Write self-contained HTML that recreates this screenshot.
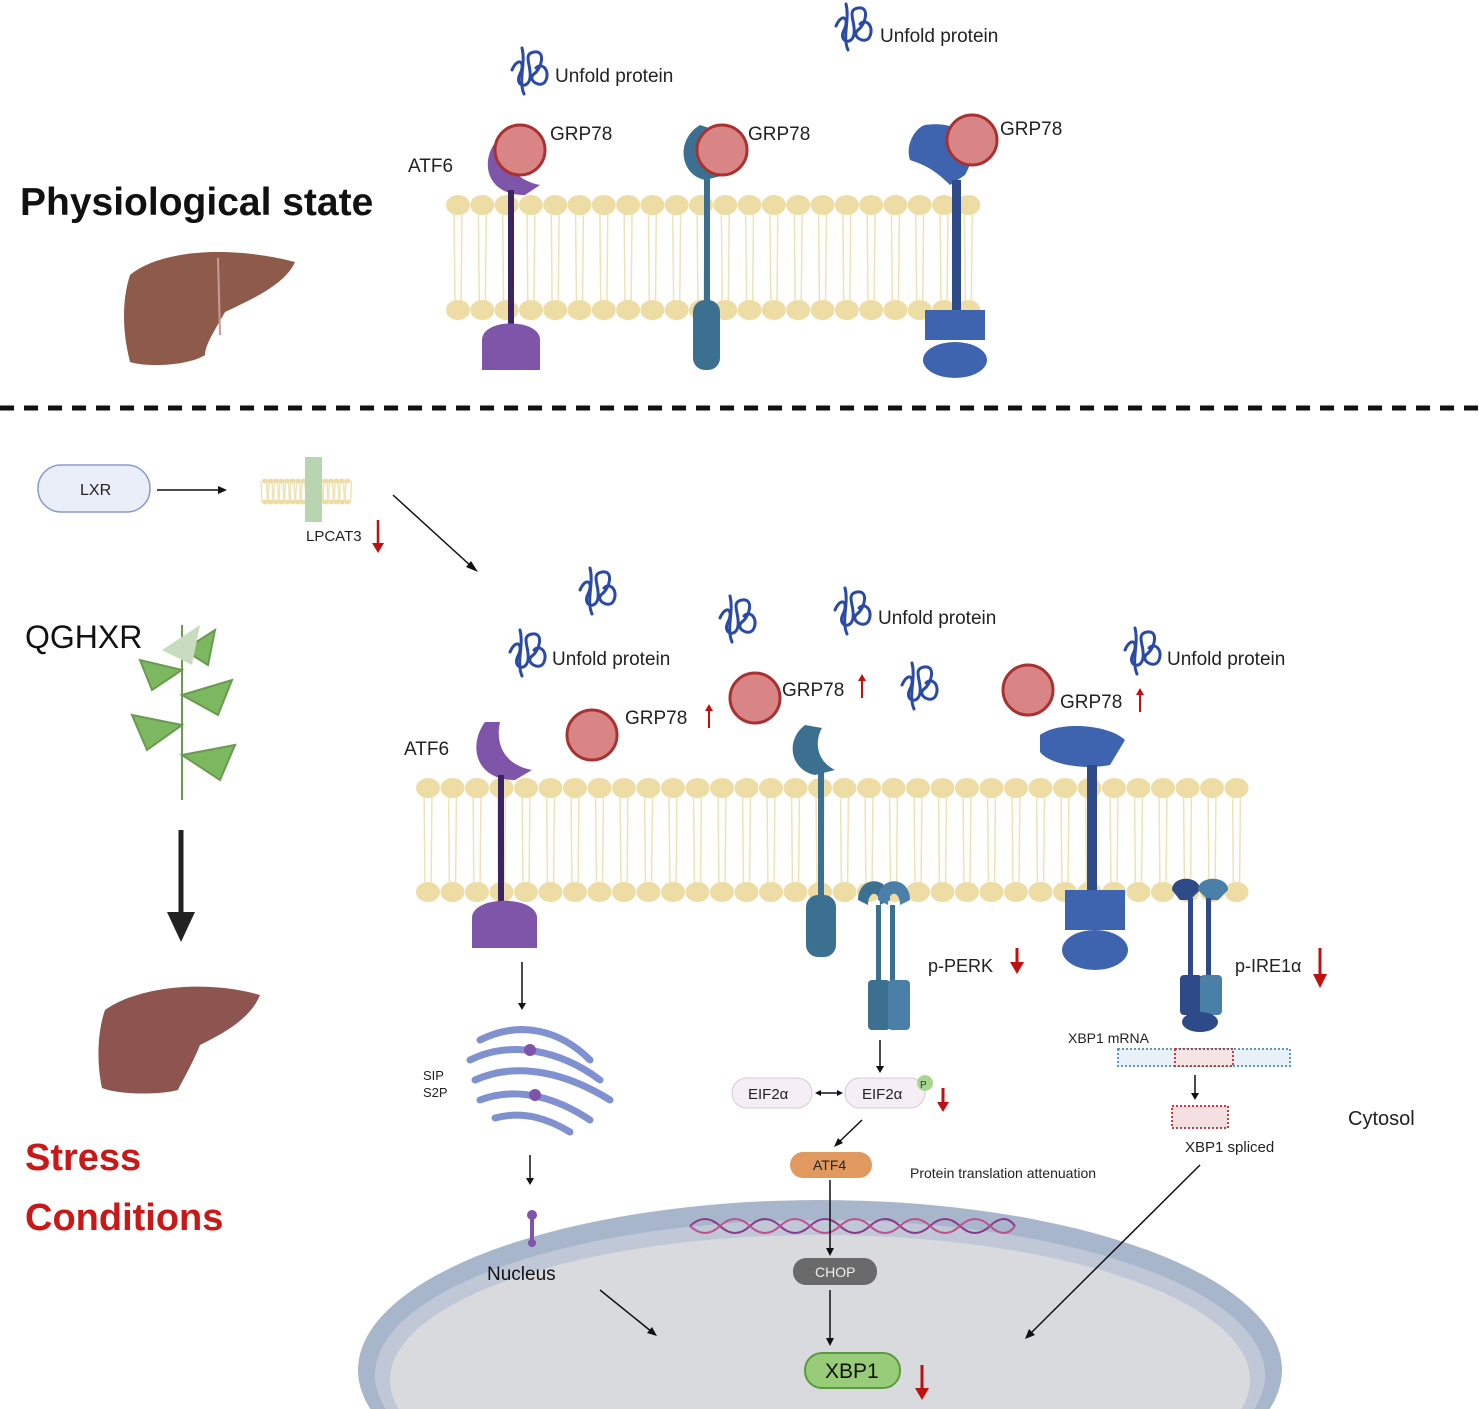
<!DOCTYPE html>
<html><head><meta charset="utf-8"><style>
html,body{margin:0;padding:0;background:#fff;width:1479px;height:1409px;overflow:hidden}
svg{display:block}
text{font-family:"Liberation Sans",sans-serif}
</style></head><body>
<svg id="s" width="1479" height="1409" viewBox="0 0 1479 1409" xmlns="http://www.w3.org/2000/svg">
<defs>
<g id="uf" fill="none" stroke="#2a4aa5" stroke-width="3" stroke-linecap="round">
<path d="M0 10 C6 -4 14 2 8 14 C2 26 16 30 18 18 C20 6 10 -6 22 -8 C34 -10 30 8 22 14 C14 20 30 30 34 20 C38 10 30 2 24 8"/>
<path d="M10 -12 C14 4 6 20 12 34"/>
</g>
</defs>
<g id="mem1"></g><g id="mem2"></g>

<!-- top section -->
<text x="20" y="215" font-size="39" font-weight="bold" fill="#111">Physiological state</text>
<path d="M130 275 C160 250 230 245 295 262 C285 285 250 300 225 312 C215 330 205 345 205 355 C190 365 150 368 130 362 C122 330 122 300 130 275Z" fill="#8e5a4a"/>
<path d="M218 258 L220 335" stroke="#c99" stroke-width="2"/>

<use href="#uf" x="512" y="60"/><text x="555" y="82" font-size="19" fill="#222">Unfold protein</text>
<use href="#uf" x="836" y="16"/><text x="880" y="42" font-size="19" fill="#222">Unfold protein</text>

<text x="408" y="172" font-size="19" fill="#222">ATF6</text>
<path d="M497 140 C480 160 485 195 525 195 L540 185 C515 180 505 165 510 140Z" fill="#7e55a8"/>
<rect x="508" y="190" width="6" height="135" fill="#3a2560"/>
<path d="M482 340 C482 318 540 318 540 340 L540 370 L482 370Z" fill="#7e55a8"/>
<circle cx="520" cy="150" r="25" fill="#d98585" stroke="#a83232" stroke-width="3"/>
<text x="550" y="140" font-size="19" fill="#222">GRP78</text>

<path d="M700 125 C675 140 680 175 705 180 L725 175 C705 165 705 145 715 130Z" fill="#3c7090"/>
<rect x="704" y="175" width="6" height="145" fill="#3c7090"/>
<rect x="693" y="300" width="27" height="70" rx="12" fill="#3c7090"/>
<circle cx="722" cy="150" r="25" fill="#d98585" stroke="#a83232" stroke-width="3"/>
<text x="748" y="140" font-size="19" fill="#222">GRP78</text>

<path d="M925 125 C960 120 985 140 965 175 L950 185 C935 170 925 165 910 160 C905 145 915 128 925 125Z" fill="#3e64b0"/>
<rect x="952" y="180" width="9" height="130" fill="#2e4a88"/>
<path d="M925 310 L985 310 L985 340 L925 340Z" fill="#3e64b0"/>
<ellipse cx="955" cy="360" rx="32" ry="18" fill="#3e64b0"/>
<circle cx="972" cy="140" r="25" fill="#d98585" stroke="#a83232" stroke-width="3"/>
<text x="1000" y="135" font-size="19" fill="#222">GRP78</text>

<line x1="0" y1="408" x2="1479" y2="408" stroke="#111" stroke-width="5" stroke-dasharray="14,10"/>

<!-- bottom left -->
<rect x="38" y="465" width="112" height="47" rx="23" fill="#e9eef9" stroke="#8b9bd0" stroke-width="1.5"/>
<text x="80" y="495" font-size="16" fill="#222">LXR</text>
<line x1="157" y1="490" x2="222" y2="490" stroke="#111" stroke-width="1.5"/>
<path d="M227 490 L218 486 L218 494Z" fill="#111"/>
<g id="smem"></g>
<rect x="305" y="457" width="17" height="65" fill="#b8d4b0"/>
<text x="306" y="541" font-size="15" fill="#222">LPCAT3</text>
<line x1="378" y1="520" x2="378" y2="547" stroke="#c01010" stroke-width="2.5"/><path d="M372 543 L378 553 L384 543Z" fill="#c01010"/>
<line x1="393" y1="495" x2="472" y2="567" stroke="#111" stroke-width="1.5"/><path d="M478 572 L466 567 L471 561Z" fill="#111"/>

<text x="25" y="648" font-size="32" fill="#111">QGHXR</text>
<g stroke="#6a9a50" stroke-width="2" fill="#7cb860">
<line x1="182" y1="625" x2="182" y2="800"/>
<path d="M182 670 L140 660 L152 690Z"/><path d="M182 695 L232 680 L218 715Z"/><path d="M182 725 L132 715 L147 750Z"/><path d="M182 755 L235 745 L220 780Z"/><path d="M184 650 L215 630 L208 665Z"/>
</g>
<path d="M162 650 L200 625 L192 665Z" fill="#c8dcc0"/>
<line x1="181" y1="830" x2="181" y2="915" stroke="#222" stroke-width="5"/>
<path d="M167 912 L195 912 L181 942Z" fill="#222"/>
<path d="M105 1010 C140 985 210 980 260 995 C250 1020 220 1035 200 1045 C192 1065 180 1085 178 1090 C160 1095 120 1095 102 1088 C96 1060 98 1030 105 1010Z" fill="#8e5450"/>
<text x="25" y="1170" font-size="38" font-weight="bold" fill="#c81818">Stress</text>
<text x="25" y="1230" font-size="38" font-weight="bold" fill="#c81818">Conditions</text>

<!-- unfold proteins bottom -->
<use href="#uf" x="580" y="580"/>
<use href="#uf" x="720" y="608"/>
<use href="#uf" x="510" y="642"/><text x="552" y="665" font-size="19" fill="#222">Unfold protein</text>
<use href="#uf" x="835" y="600"/><text x="878" y="624" font-size="19" fill="#222">Unfold protein</text>
<use href="#uf" x="902" y="675"/>
<use href="#uf" x="1125" y="640"/><text x="1167" y="665" font-size="19" fill="#222">Unfold protein</text>

<!-- GRP78 bottom -->
<circle cx="592" cy="735" r="25" fill="#d98585" stroke="#a83232" stroke-width="3"/>
<text x="625" y="724" font-size="19" fill="#222">GRP78</text>
<circle cx="755" cy="698" r="25" fill="#d98585" stroke="#a83232" stroke-width="3"/>
<text x="782" y="696" font-size="19" fill="#222">GRP78</text>
<circle cx="1028" cy="690" r="25" fill="#d98585" stroke="#a83232" stroke-width="3"/>
<text x="1060" y="708" font-size="19" fill="#222">GRP78</text>
<g stroke="#c01010" stroke-width="2"><line x1="709" y1="728" x2="709" y2="710"/><line x1="862" y1="698" x2="862" y2="680"/><line x1="1140" y1="712" x2="1140" y2="694"/></g>
<g fill="#c01010"><path d="M705 711 L709 704 L713 711Z"/><path d="M858 681 L862 674 L866 681Z"/><path d="M1136 695 L1140 688 L1144 695Z"/></g>

<!-- ATF6 bottom -->
<text x="404" y="755" font-size="19" fill="#222">ATF6</text>
<path d="M485 722 C468 745 475 780 515 780 L532 770 C505 765 495 745 500 722Z" fill="#7e55a8"/>
<rect x="498" y="775" width="6" height="135" fill="#3a2560"/>
<path d="M472 918 C472 895 537 895 537 918 L537 948 L472 948Z" fill="#7e55a8"/>

<!-- PERK monomer -->
<path d="M805 725 C785 740 790 770 815 775 L835 770 C815 760 815 740 822 728Z" fill="#3c7090"/>
<rect x="818" y="770" width="6" height="140" fill="#3c7090"/>
<rect x="806" y="895" width="30" height="62" rx="12" fill="#3c7090"/>
<!-- p-PERK dimer -->
<path d="M858 900 C858 875 890 875 890 900 L880 905 C880 890 868 890 868 905Z" fill="#3c7090"/>
<path d="M878 900 C878 875 910 875 910 900 L900 905 C900 890 888 890 888 905Z" fill="#4a80a8"/>
<rect x="876" y="905" width="5" height="80" fill="#3c7090"/><rect x="890" y="905" width="5" height="80" fill="#3c7090"/>
<rect x="868" y="980" width="22" height="50" rx="4" fill="#3c7090"/><rect x="888" y="980" width="22" height="50" rx="4" fill="#4a80a8"/>
<text x="928" y="972" font-size="18" fill="#222">p-PERK</text>
<line x1="1017" y1="948" x2="1017" y2="966" stroke="#c01010" stroke-width="3"/><path d="M1010 962 L1017 974 L1024 962Z" fill="#c01010"/>

<!-- IRE1 -->
<path d="M1040 735 C1060 720 1110 725 1125 740 L1110 765 C1085 770 1050 765 1040 752Z" fill="#3e64b0"/>
<rect x="1087" y="765" width="10" height="130" fill="#2e4a88"/>
<path d="M1065 890 L1125 890 L1125 930 L1065 930Z" fill="#3e64b0"/>
<ellipse cx="1095" cy="950" rx="33" ry="20" fill="#3e64b0"/>
<!-- p-IRE1 dimer -->
<path d="M1172 890 C1172 875 1200 875 1200 890 L1190 900 L1180 900Z" fill="#2e4a88"/>
<path d="M1198 890 C1198 875 1228 875 1228 890 L1218 900 L1208 900Z" fill="#4a80a8"/>
<rect x="1188" y="898" width="5" height="80" fill="#2e4a88"/><rect x="1206" y="898" width="5" height="80" fill="#2e4a88"/>
<rect x="1180" y="975" width="22" height="40" rx="4" fill="#2e4a88"/><rect x="1200" y="975" width="22" height="40" rx="4" fill="#4a80a8"/>
<ellipse cx="1200" cy="1022" rx="18" ry="10" fill="#2e4a88"/>
<text x="1235" y="972" font-size="18" fill="#222">p-IRE1α</text>
<line x1="1320" y1="948" x2="1320" y2="978" stroke="#c01010" stroke-width="3"/><path d="M1313 974 L1320 988 L1327 974Z" fill="#c01010"/>

<text x="1068" y="1043" font-size="14" fill="#222">XBP1 mRNA</text>
<rect x="1118" y="1049" width="172" height="17" fill="#e8f0f8" stroke="#5a9ac8" stroke-width="2" stroke-dasharray="2,2"/>
<rect x="1175" y="1049" width="58" height="17" fill="#f4e4e4" stroke="#c04040" stroke-width="2" stroke-dasharray="2,2"/>
<line x1="1195" y1="1075" x2="1195" y2="1095" stroke="#111" stroke-width="1.5"/><path d="M1191 1093 L1195 1100 L1199 1093Z" fill="#111"/>
<rect x="1172" y="1106" width="56" height="22" fill="#f4e0e0" stroke="#c04040" stroke-width="2" stroke-dasharray="2,2"/>
<text x="1185" y="1152" font-size="15" fill="#222">XBP1 spliced</text>
<text x="1348" y="1125" font-size="20" fill="#222">Cytosol</text>

<!-- golgi -->
<g fill="none" stroke="#6a7ec8" stroke-width="7" stroke-linecap="round" opacity="0.85">
<path d="M480 1040 C520 1020 560 1030 590 1060"/>
<path d="M470 1060 C510 1040 560 1050 600 1080"/>
<path d="M475 1080 C520 1060 570 1075 610 1100"/>
<path d="M480 1100 C520 1085 560 1100 590 1120"/>
<path d="M495 1118 C525 1110 550 1120 570 1132"/>
</g>
<circle cx="530" cy="1050" r="6" fill="#7e55a8"/><circle cx="535" cy="1095" r="6" fill="#7e55a8"/>
<text x="423" y="1080" font-size="13" fill="#222">SIP</text><text x="423" y="1097" font-size="13" fill="#222">S2P</text>
<line x1="522" y1="962" x2="522" y2="1005" stroke="#111" stroke-width="1.5"/><path d="M518 1003 L522 1010 L526 1003Z" fill="#111"/>
<line x1="530" y1="1155" x2="530" y2="1180" stroke="#111" stroke-width="1.5"/><path d="M526 1178 L530 1185 L534 1178Z" fill="#111"/>

<!-- EIF2 -->
<line x1="880" y1="1040" x2="880" y2="1068" stroke="#111" stroke-width="1.5"/><path d="M876 1066 L880 1073 L884 1066Z" fill="#111"/>
<rect x="732" y="1078" width="80" height="30" rx="15" fill="#f6eef6" stroke="#d8c8d8"/>
<text x="748" y="1099" font-size="15" fill="#222">EIF2α</text>
<rect x="845" y="1078" width="80" height="30" rx="15" fill="#f6eef6" stroke="#d8c8d8"/>
<text x="862" y="1099" font-size="15" fill="#222">EIF2α</text>
<circle cx="925" cy="1083" r="8" fill="#a8d890"/><text x="920" y="1088" font-size="10" fill="#333">P</text>
<line x1="818" y1="1093" x2="840" y2="1093" stroke="#111" stroke-width="1.5"/><path d="M815 1093 L821 1090 L821 1096Z M843 1093 L837 1090 L837 1096Z" fill="#111"/>
<line x1="943" y1="1088" x2="943" y2="1105" stroke="#c01010" stroke-width="3"/><path d="M937 1102 L943 1112 L949 1102Z" fill="#c01010"/>
<line x1="862" y1="1120" x2="838" y2="1143" stroke="#111" stroke-width="1.5"/><path d="M834 1147 L838 1138 L843 1143Z" fill="#111"/>
<rect x="790" y="1152" width="82" height="26" rx="13" fill="#e09a60"/>
<text x="813" y="1170" font-size="14" fill="#222">ATF4</text>
<text x="910" y="1178" font-size="14" fill="#222">Protein translation attenuation</text>

<!-- nucleus -->
<ellipse cx="820" cy="1370" rx="462" ry="170" fill="#a8b6cc"/>
<ellipse cx="820" cy="1375" rx="445" ry="155" fill="#c0c8d8"/>
<ellipse cx="820" cy="1380" rx="430" ry="145" fill="#d8dade"/>
<path d="M690 1226 Q705 1212 720 1226 T750 1226 T780 1226 T810 1226 T840 1226 T870 1226 T900 1226 T930 1226 T960 1226 T990 1226 T1015 1226" fill="none" stroke="#8a3a8a" stroke-width="2"/>
<path d="M690 1226 Q705 1240 720 1226 T750 1226 T780 1226 T810 1226 T840 1226 T870 1226 T900 1226 T930 1226 T960 1226 T990 1226 T1015 1226" fill="none" stroke="#c05090" stroke-width="2"/>
<circle cx="532" cy="1215" r="5" fill="#7e55a8"/><rect x="530" y="1218" width="4" height="22" fill="#7e55a8"/><circle cx="532" cy="1243" r="4" fill="#7e55a8"/>
<text x="487" y="1280" font-size="19" fill="#111">Nucleus</text>
<line x1="830" y1="1180" x2="830" y2="1250" stroke="#111" stroke-width="1.5"/><path d="M826 1248 L830 1256 L834 1248Z" fill="#111"/>
<rect x="793" y="1258" width="84" height="27" rx="13" fill="#6a6a6a"/>
<text x="815" y="1277" font-size="14" fill="#eee">CHOP</text>
<line x1="830" y1="1290" x2="830" y2="1340" stroke="#111" stroke-width="1.5"/><path d="M826 1338 L830 1346 L834 1338Z" fill="#111"/>
<rect x="805" y="1353" width="95" height="35" rx="17" fill="#98cc78" stroke="#5a9a40" stroke-width="2"/>
<text x="825" y="1378" font-size="21" fill="#111">XBP1</text>
<line x1="922" y1="1365" x2="922" y2="1392" stroke="#c01010" stroke-width="3"/><path d="M915 1388 L922 1400 L929 1388Z" fill="#c01010"/>
<line x1="600" y1="1290" x2="652" y2="1332" stroke="#111" stroke-width="1.5"/><path d="M657 1336 L647 1333 L652 1327Z" fill="#111"/>
<line x1="1200" y1="1165" x2="1030" y2="1334" stroke="#111" stroke-width="1.5"/><path d="M1025 1339 L1029 1329 L1035 1335Z" fill="#111"/>
</svg>
<script>
var NS="http://www.w3.org/2000/svg";
function el(p,t,a){var e=document.createElementNS(NS,t);for(var k in a)e.setAttribute(k,a[k]);p.appendChild(e);return e;}
function mem(g,x0,x1,yt,yb,rx,ry,step){
  for(var x=x0;x<=x1;x+=step){
    el(g,"line",{x1:x-4,y1:yt,x2:x-3,y2:yb,stroke:"#efe2b8","stroke-width":1.5});
    el(g,"line",{x1:x+4,y1:yt,x2:x+3,y2:yb,stroke:"#efe2b8","stroke-width":1.5});
  }
  for(var x=x0;x<=x1;x+=step){
    el(g,"ellipse",{cx:x,cy:yt,rx:rx,ry:ry,fill:"#eedca5"});
    el(g,"ellipse",{cx:x,cy:yb,rx:rx,ry:ry,fill:"#eedca5"});
  }
}
mem(document.getElementById("mem1"),458,992,205,310,12,10,24.3);
mem(document.getElementById("mem2"),428,1238,788,892,12,10,24.5);
mem(document.getElementById("smem"),265,352,481,502,3,2.5,5.5);
</script>
</body></html>
